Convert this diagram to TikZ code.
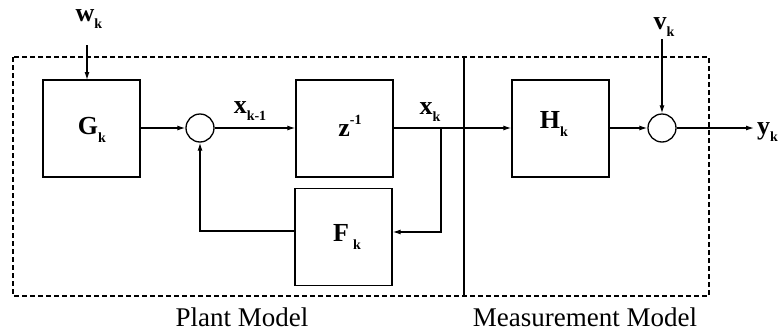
\documentclass[tikz,border=0pt]{standalone}
\usepackage{fontspec}
\setmainfont{Liberation Serif}
\usetikzlibrary{arrows.meta}
\newcommand{\symlab}[2]{\textbf{#1}\raisebox{-0.28em}{\fontsize{14}{14}\selectfont\textbf{#2}}}
\begin{document}
\begin{tikzpicture}[x=1pt,y=-1pt,
  blk/.style={draw,line width=1.3pt,minimum width=97pt,minimum height=97pt,inner sep=0pt},
  sumnode/.style={draw,circle,line width=1.3pt,minimum size=28pt,inner sep=0pt},
  conn/.style={line width=1.2pt},
  arr/.style={conn,-{Latex[length=8pt,width=5pt]}},
  lbl/.style={font=\fontsize{26}{26}\selectfont,inner sep=0pt},
  captxt/.style={font=\fontsize{27}{27}\selectfont,inner sep=0pt}]
\useasboundingbox (0,0) rectangle (780,335);
% frame
\draw[line width=1.2pt,dash pattern=on 5pt off 3pt] (13,57) rectangle (709,296);
\coordinate (divtop) at (464,57);
\coordinate (divbot) at (464,296);
\draw[conn] (divtop) -- (divbot);
% blocks
\node[blk] (G) at (91.5,128.5) {};
\node[blk] (Z) at (344.5,128.5) {};
\node[blk] (F) at (343.5,237) {};
\node[blk] (H) at (560.5,128.5) {};
\node[sumnode] (S1) at (200,128) {};
\node[sumnode] (S2) at (662,128) {};
% block labels
\node[lbl] at (92,130) {\symlab{G}{k}};
\node[lbl] at (350,126) {\textbf{z}\raisebox{0.45em}{\fontsize{14}{14}\selectfont\textbf{-1}}};
\node[lbl] at (347,237) {\textbf{F}\,\raisebox{-0.28em}{\fontsize{14}{14}\selectfont\textbf{k}}};
\node[lbl] at (554,124) {\symlab{H}{k}};
% signal labels
\node[lbl] (w) at (89,19) {\symlab{w}{k}};
\node[lbl] (v) at (664,27) {\symlab{v}{k}};
\node[lbl,anchor=west] (y) at (757,132) {\symlab{y}{k}};
\node[lbl] at (250,111) {\symlab{x}{k-1}};
\node[lbl] at (430,112) {\symlab{x}{k}};
% connectors
\coordinate (wst) at (87,45);
\coordinate (wend) at (87,80);
\draw[arr] (wst) -- (wend);
\coordinate (vst) at (662,39);
\draw[arr] (vst) -- (S2.north);
\draw[arr] (G.east |- S1.west) -- (S1.west);
\draw[arr] (S1.east) -- (Z.west |- S1.east);
\coordinate (br) at (441,128);
\coordinate (brd) at (441,232);
\draw[arr] (Z.east |- br) -- (H.west |- br);
\draw[arr] (br) -- (brd) -- (F.east |- brd);
\coordinate (fb) at (200,231);
\draw[arr] (F.west |- fb) -- (fb) -- (S1.south);
\draw[arr] (H.east |- S2.west) -- (S2.west);
\coordinate (yend) at (754,128);
\draw[arr] (S2.east) -- (yend);
% captions
\node[captxt] at (242,317) {Plant Model};
\node[captxt] at (585,317) {Measurement Model};
\end{tikzpicture}
\end{document}
